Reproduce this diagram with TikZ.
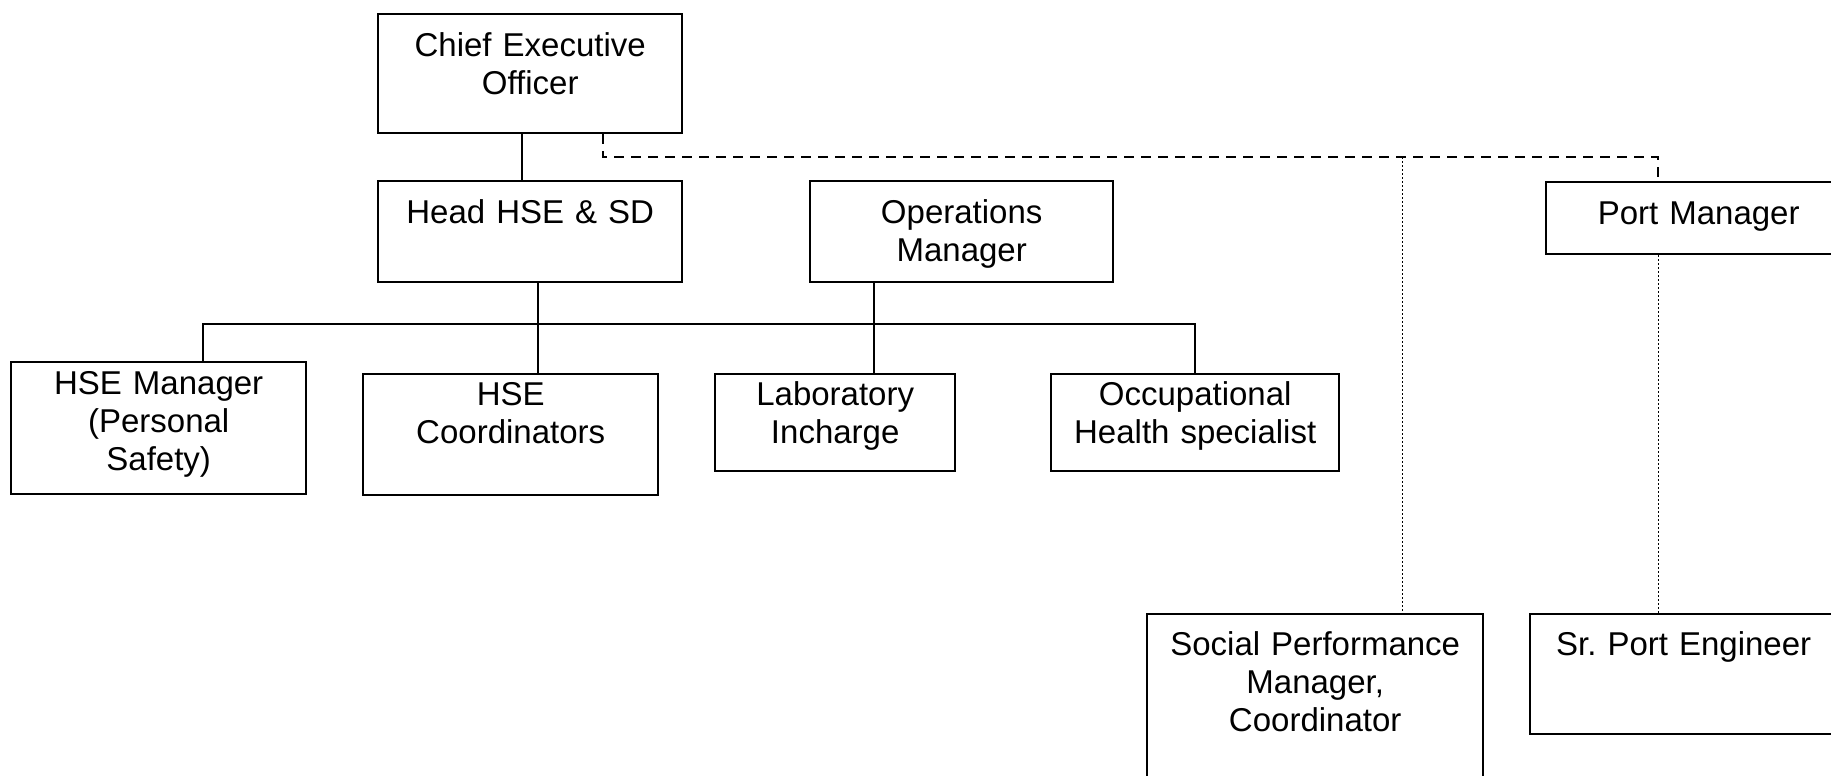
\documentclass[tikz,border=0pt]{standalone}
\usepackage{fontspec}
\setmainfont{Liberation Sans}
\usepackage{tikz}

\tikzset{
  post/.style={draw, line width=1.2pt, inner sep=0pt, anchor=north west, align=center,
    font=\fontsize{16.5}{19}\selectfont, text height=21pt},
  lowpost/.style={post, text height=15.5pt},
  line/.style={line width=0.8pt},
  dashline/.style={line width=1pt, dash pattern=on 5pt off 3.5pt},
  dotline/.style={line width=0.5pt, dash pattern=on 1pt off 1pt},
}

\begin{document}
\begin{tikzpicture}[x=0.5pt, y=-0.5pt]
    \clip (0,0) rectangle (1831,776);
    % top of the chart
    \node[post, text width=152pt, text depth=38.5pt] (ceo) at (377,13) {Chief Executive\\Officer};
    \node[post, text width=152pt, text depth=29.5pt] (head) at (377,180) {Head HSE \& SD};
    \node[post, text width=151.5pt, text depth=29.5pt] (ops) at (809,180) {Operations\\Manager};
    \node[post, text width=152.5pt, text depth=15pt] (port) at (1545,181) {Port Manager};
    % second row
    \node[lowpost, text height=16pt, text width=147.5pt, text depth=50pt] (hsem) at (10,361) {HSE Manager\\(Personal\\Safety)};
    \node[lowpost, text width=147.5pt, text depth=45pt] (hsec) at (362,373) {HSE\\Coordinators};
    \node[lowpost, text width=120pt, text depth=33pt] (lab) at (714,373) {Laboratory\\Incharge};
    \node[lowpost, text width=144pt, text depth=33pt] (occ) at (1050,373) {Occupational\\Health specialist};
    % bottom row
    \node[post, text height=20.5pt, text width=168pt, text depth=79.5pt] (spm) at (1146,613) {Social Performance\\Manager,\\Coordinator};
    \node[post, text height=20.5pt, text width=153.5pt, text depth=39.5pt] (spe) at (1529,613) {Sr.\ Port Engineer};

    \coordinate (ceodrop) at (522,0);
    \coordinate (bus) at (538,324);
    \coordinate (labdrop) at (874,0);
    \coordinate (dashl) at (603,157);
    \coordinate (dashr) at (1658,157);
    \coordinate (spmdrop) at (1402,157);

    \draw[line] (ceo.south -| ceodrop) -- (head.north -| ceodrop);
    \draw[line] (head.south -| bus) -- (hsec.north -| bus);
    \draw[line] ([xshift=22.25pt]hsem.north) |- (bus) -| (occ.north);
    \draw[line] (ops.south -| labdrop) -- (lab.north -| labdrop);
    % dashed and dotted lines
    \draw[dashline] (ceo.south -| dashl) -- (dashl) -- (dashr) -- (port.north -| dashr);
    \draw[dotline] (spmdrop) -- (spm.north -| spmdrop);
    \draw[dotline] (port.south -| dashr) -- (spe.north -| dashr);
\end{tikzpicture}
\end{document}
